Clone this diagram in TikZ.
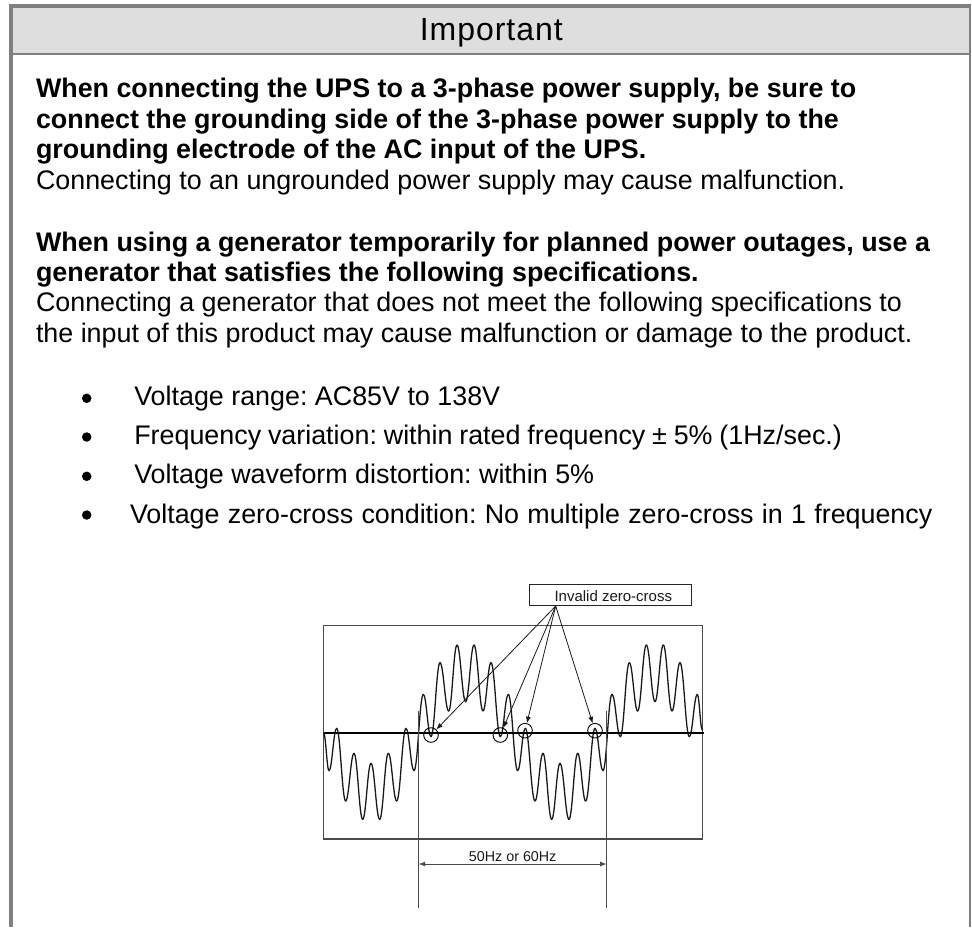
\documentclass[tikz,border=0pt]{standalone}
\usepackage{fontspec}
\setmainfont{Liberation Sans}
\usetikzlibrary{arrows.meta}
\definecolor{framegray}{HTML}{808080}
\definecolor{headgray}{HTML}{DEDEDE}
\definecolor{linegray}{HTML}{4A4A4A}
\tikzset{
  body/.style={anchor=base west,inner sep=0pt,outer sep=0pt,font=\fontsize{26.86}{27}\selectfont,text=black},
  bodyb/.style={body,font=\fontsize{26.86}{27}\selectfont\bfseries},
  small/.style={inner sep=0pt,outer sep=0pt,font=\fontsize{15}{15}\selectfont,text=black!90},
  dotb/.style={circle,fill=black,inner sep=0pt,minimum size=9.5pt},
  ring/.style={circle,draw=black,line width=0.9pt,inner sep=0pt,minimum size=14.6pt},
  wave/.style={line width=1.3pt,black!90,line cap=round},
  tip/.style={-{Latex[length=6.5pt,width=5pt]},line width=0.8pt,black!90}
}
\begin{document}
\frenchspacing
\begin{tikzpicture}[x=1pt,y=-1pt]
\useasboundingbox (0,0) rectangle (972,927);
% frame and header
\fill[headgray] (13,8) rectangle (969,53);
\fill[framegray] (9,4) rectangle (971,8);
\fill[framegray] (9,4) rectangle (13,927);
\fill[framegray] (969,4) rectangle (971,927);
\fill[framegray] (13,53) rectangle (969,55);
\node[anchor=base,inner sep=0pt,font=\fontsize{32}{32}\selectfont\addfontfeature{LetterSpace=3}] (title) at (491.3,40.7) {Important};
% text
\node[bodyb] (t1) at (36,97.3) {When connecting the UPS to a 3-phase power supply, be sure to};
\node[bodyb] (t2) at (36,128) {connect the grounding side of the 3-phase power supply to the};
\node[bodyb] (t3) at (36,158.3) {grounding electrode of the AC input of the UPS.};
\node[body] (t4) at (36,189) {Connecting to an ungrounded power supply may cause malfunction.};
\node[bodyb] (t5) at (36,251) {When using a generator temporarily for planned power outages, use a};
\node[bodyb] (t6) at (36,281) {generator that satisfies the following specifications.};
\node[body] (t7) at (36,311.7) {Connecting a generator that does not meet the following specifications to};
\node[body] (t8) at (36,342.3) {the input of this product may cause malfunction or damage to the product.};
\node[dotb] (b1) at (86.7,398.3) {};
\node[dotb] (b2) at (86.7,437) {};
\node[dotb] (b3) at (86.7,476.3) {};
\node[dotb] (b4) at (86.7,515) {};
\node[body] (l1) at (134.3,405.7) {Voltage range: AC85V to 138V};
\node[body] (l2) at (134.3,444.3) {\spaceskip=6.85pt Frequency variation: within rated frequency ± 5\% (1Hz/sec.)};
\node[body] (l3) at (134.3,483.7) {Voltage waveform distortion: within 5\%};
\node[body] (l4) at (130,523.3) {\spaceskip=8.3pt Voltage zero-cross condition: No multiple zero-cross in 1 frequency};
% scope box
\draw[linegray,line width=1.3pt] (323.7,625.7) rectangle (702.3,839);
% waveform
\begin{scope}[shift={(310,600)},x=0.33333pt,y=-0.33333pt]
\foreach \x/\y [remember=\x as \px (initially 41),remember=\y as \py (initially 400)] in
 {57/512,80/385,107/603,132/460,158/658,183/490,209/658,235/460,260/603,288/385,312/512,340/283,363/410,390/188,416/333,441/135,467/305,492/135,519/333,543/188,571/410,595/283,623/512,646/385,675/603,699/460,725/658,750/490,777/658,803/460,827/603,855/385,879/512,906/283,931/410,958/188,983/333,1009/135,1035/305,1060/135,1086/333,1110/188,1138/410,1162/283,1177/390}
 \draw[wave] (\px,\py) .. controls ({\px+0.4*(\x-\px)},\py) and ({\x-0.4*(\x-\px)},\y) .. (\x,\y);
\end{scope}
% axis
\coordinate (axl) at (323.7,732.7);
\coordinate (axr) at (703.5,732.7);
\draw[black,line width=2pt] (axl) -- (axr);
% rings
\node[ring] (c1) at (431,735) {};
\node[ring] (c2) at (500.3,735) {};
\node[ring] (c3) at (525,730.7) {};
\node[ring] (c4) at (595,730.7) {};
% callout
\node[draw=black!85,line width=1pt,minimum width=162.4pt,minimum height=21.3pt,inner sep=0pt] (izc) at (610.5,595.3) {};
\node[small,anchor=base] (izct) at (613.3,601) {Invalid zero-cross};
\coordinate (src) at (555.7,606);
\draw[tip] (src) -- (c1);
\draw[tip] (src) -- (c2);
\draw[tip] (src) -- (c3);
\draw[tip] (src) -- (c4);
% dimension
\coordinate (vl1) at (418.7,711);
\coordinate (vl2) at (418.7,908);
\coordinate (vr1) at (606.7,711);
\coordinate (vr2) at (606.7,908);
\coordinate (dl) at (418.7,864);
\coordinate (dr) at (606.7,864);
\draw[linegray,line width=0.9pt] (vl1) -- (vl2);
\draw[linegray,line width=0.9pt] (vr1) -- (vr2);
\draw[{Latex[length=6.5pt,width=5pt]}-{Latex[length=6.5pt,width=5pt]},linegray,line width=1pt] (dl) -- (dr);
\node[small,anchor=base,font=\fontsize{14.3}{14.3}\selectfont] (dim) at (512.7,861) {50Hz or 60Hz};
\end{tikzpicture}
\end{document}
